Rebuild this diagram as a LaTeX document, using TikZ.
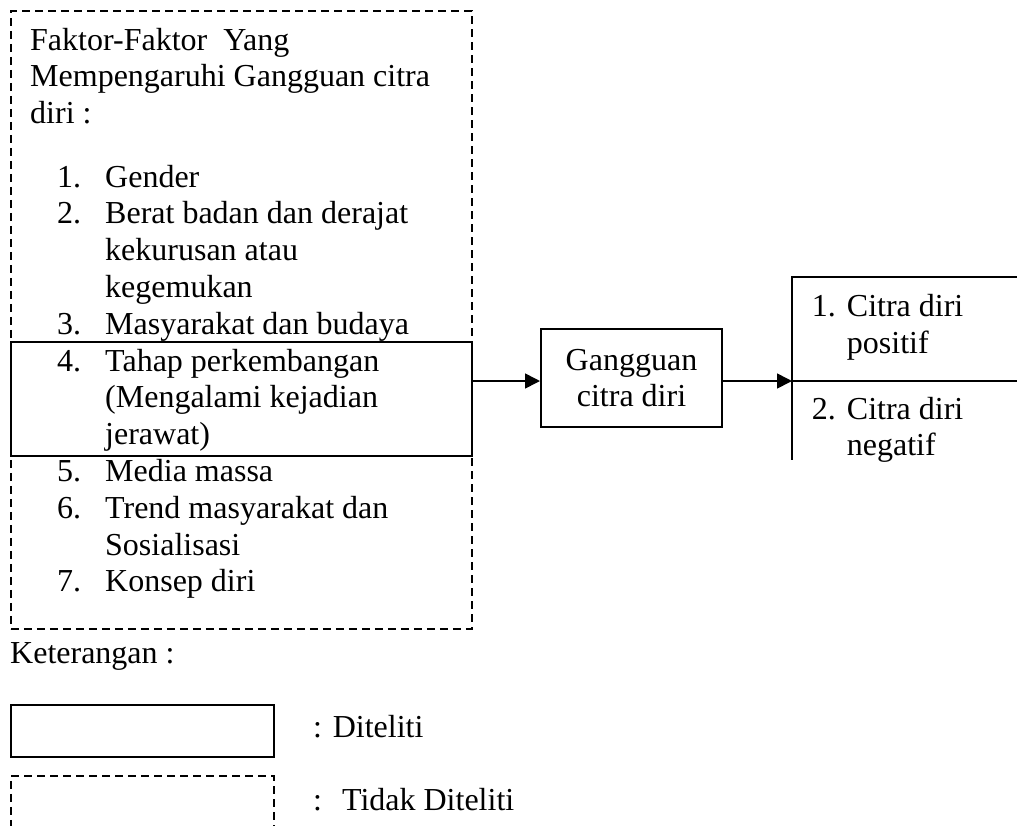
\documentclass[tikz,border=0pt]{standalone}
\usepackage{fontspec}
\setmainfont{Liberation Serif}
\usetikzlibrary{arrows.meta, positioning, calc}

\tikzset{
  solidbox/.style={draw, line width=2pt, inner sep=0pt},
  dashbox/.style={draw, line width=1.6pt, dash pattern=on 8pt off 5pt, inner sep=0pt},
  txt/.style={inner sep=0pt, align=left, font=\fontsize{32}{36.8}\selectfont},
  panah/.style={line width=1.6pt, -{Triangle[length=15pt, width=15pt]}}
}

\begin{document}
\begin{tikzpicture}[x=1pt, y=-1pt]
  \useasboundingbox (0,0) rectangle (1017,825);
  \clip (0,0) rectangle (1017,825);

  % faktor-faktor (tidak diteliti)
  \node[dashbox, minimum width=461pt, minimum height=618pt, anchor=north west] (faktor) at (10,10) {};
  \node[solidbox, minimum width=461pt, minimum height=114pt, anchor=north west] (tahap) at (10,341) {};
  \node[txt, anchor=base west] (judul) at (30,123.6) {Faktor-Faktor\ \ Yang\\Mempengaruhi Gangguan citra\\diri :};
  % base anchor = last line, so \akhir is the index of the last line
  \foreach \nomor/\baris/\akhir/\isi in {1/0/0/Gender, 2/1/3/{Berat badan dan derajat\\kekurusan atau\\kegemukan}, 3/4/4/Masyarakat dan budaya, 4/5/7/{Tahap perkembangan\\(Mengalami kejadian\\jerawat)}, 5/8/8/Media massa, 6/9/10/{Trend masyarakat dan\\Sosialisasi}, 7/11/11/Konsep diri}{
    \node[txt, anchor=base west] (no\nomor) at (57,187+36.8*\baris) {\nomor.};
    \node[txt, anchor=base west] (isi\nomor) at (105,187+36.8*\akhir) {\isi};
  }

  % gangguan citra diri
  \node[solidbox, minimum width=181pt, minimum height=98pt, txt, align=center] (gangguan) at (631.5,378) {Gangguan\\citra diri};

  % hasil
  \coordinate (hasil) at (792,381);
  \draw[line width=2pt] (1030,277) -| (792,460);
  \draw[line width=2pt] (hasil) -- (1030,381);
  \node[txt, anchor=base west] (no1) at (811.7,316.5) {1.};
  \node[txt, anchor=base west] (positif) at (846.7,353.3) {Citra diri\\positif};
  \node[txt, anchor=base west] (no2) at (811.7,419) {2.};
  \node[txt, anchor=base west] (negatif) at (846.7,455.8) {Citra diri\\negatif};

  \draw[panah] (tahap.east |- hasil) -- (gangguan.west |- hasil);
  \draw[panah] (gangguan.east |- hasil) -- (hasil);

  % keterangan
  \node[txt, anchor=base west] (ket) at (10,663) {Keterangan :};
  \node[solidbox, minimum width=263pt, minimum height=52pt, anchor=north west] (diteliti) at (10,704) {};
  \node[txt, anchor=base west] at (313,737) {: Diteliti};
  \node[dashbox, minimum width=263pt, minimum height=80pt, anchor=north west] (tidak) at (10,775) {};
  \node[txt, anchor=base west] at (313,810) {:\hspace{20pt}Tidak Diteliti};
\end{tikzpicture}
\end{document}
